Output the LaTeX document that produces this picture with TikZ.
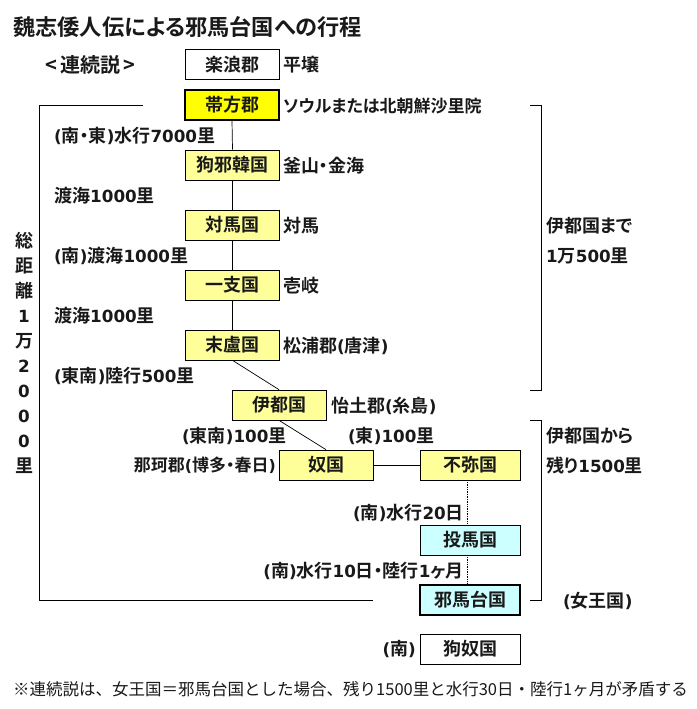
\documentclass[tikz,border=0pt]{standalone}
\usepackage{fontspec}
\setmainfont[BoldFont={Noto Sans CJK JP Bold},RawFeature={+palt}]{Noto Sans CJK JP}
\newfontfamily\regfont{Noto Sans CJK JP}
\newfontfamily\widefont[Scale=0.93]{DejaVu Sans Bold}
\newcommand{\dg}[1]{{\widefont #1}}
\begin{document}
\begin{tikzpicture}[x=1pt,y=-1pt,
  box/.style={draw=black,line width=0.7pt,minimum width=94pt,minimum height=30pt,inner sep=0pt,font=\fontsize{18}{18}\bfseries\selectfont,text=black!90},
  wide/.style={box,minimum width=100pt},
  plain/.style={fill=white},
  yel/.style={fill=myyel},
  cyan/.style={fill=mycyan},
  strong/.style={line width=1.7pt},
  lab/.style={anchor=west,inner sep=0pt,yshift=-1pt,font=\fontsize{18}{18}\bfseries\selectfont,text=black!90},
  labr/.style={lab,anchor=east},
  tight/.style={font=\fontsize{17}{17}\bfseries\selectfont},
  link/.style={draw=black,line width=0.7pt},
  dots/.style={draw=black,line width=0.7pt,densely dotted}]
\definecolor{myyel}{RGB}{255,255,153}
\definecolor{mycyan}{RGB}{204,255,255}
\definecolor{mystrong}{RGB}{255,255,0}
\useasboundingbox (0,0) rectangle (696,709);
\fill[white] (0,0) rectangle (696,709);
\node[lab,font=\fontsize{22.2}{22}\bfseries\selectfont] (title) at (13,26) {魏志倭人伝による邪馬台国への行程};
\node[lab,font=\fontsize{20}{20}\bfseries\selectfont] (ren) at (45,64) {<\hspace{3pt}連続説\hspace{3pt}>};
% boxes
\node[box,plain] (raku) at (232.5,64.5) {楽浪郡};
\node[box,fill=mystrong,strong] (tai) at (232,105) {帯方郡};
\node[box,yel] (kuya) at (232.5,165) {狗邪韓国};
\node[box,yel] (tsu) at (232.5,225) {対馬国};
\node[box,yel] (iki) at (232.5,285) {一支国};
\node[box,yel] (mat) at (232.5,345) {末盧国};
\node[box,yel] (ito) at (279,405) {伊都国};
\node[box,yel] (na) at (326,465) {奴国};
\node[wide,yel] (fumi) at (470,465) {不弥国};
\node[wide,cyan] (toma) at (470,540) {投馬国};
\node[wide,cyan,strong] (yama) at (470,600) {邪馬台国};
\node[wide,plain] (kuna) at (470,649) {狗奴国};
% connectors
\draw[link] (tai.south) -- (kuya.north);
\draw[link] (kuya.south) -- (tsu.north);
\draw[link] (tsu.south) -- (iki.north);
\draw[link] (iki.south) -- (mat.north);
\draw[link] (mat.south) -- (ito.north);
\draw[link] (ito.south) -- (na.north);
\draw[link] (na.east) -- (fumi.west);
\draw[dots] ([xshift=-3pt]fumi.south) -- ([xshift=-3pt]toma.north);
\draw[dots] ([xshift=-3pt]toma.south) -- ([xshift=-3pt]yama.north);
% brackets
\coordinate (la) at (143,105);
\coordinate (lb) at (39,105);
\coordinate (lc) at (39,600);
\coordinate (ld) at (373,600);
\draw[link] (la) -- (lb) -- (lc) -- (ld);
\coordinate (ra) at (530,105);
\coordinate (rb) at (541,105);
\coordinate (rc) at (541,390);
\coordinate (rd) at (530,390);
\draw[link] (ra) -- (rb) -- (rc) -- (rd);
\coordinate (sa) at (530,420);
\coordinate (sb) at (541,420);
\coordinate (sc) at (541,600);
\coordinate (sd) at (530,600);
\draw[link] (sa) -- (sb) -- (sc) -- (sd);
% right-hand labels
\node[lab] (l1) at (283,64) {平壌};
\node[lab,tight] (l2) at (283,105) {ソウルまたは北朝鮮沙里院};
\node[lab] (l3) at (283,165) {釜山・金海};
\node[lab] (l4) at (283,225) {対馬};
\node[lab] (l5) at (283,285) {壱岐};
\node[lab] (l6) at (283,345) {松浦郡\dg{(}唐津\dg{)}};
\node[lab] (l7) at (331,405) {怡土郡\dg{(}糸島\dg{)}};
\node[labr,tight] (l8) at (276,464) {那珂郡\dg{(}博多・春日\dg{)}};
% route labels
\node[lab] (r1) at (54,135) {\dg{(}南・東\dg{)}水行\dg{7000}里};
\node[lab] (r2) at (54,195) {渡海\dg{1000}里};
\node[lab] (r3) at (54,255) {\dg{(}南\dg{)}渡海\dg{1000}里};
\node[lab] (r4) at (54,315) {渡海\dg{1000}里};
\node[lab] (r5) at (54,375) {\dg{(}東南\dg{)}陸行\dg{500}里};
\node[lab] (r6) at (182,435) {\dg{(}東南\dg{)}\dg{100}里};
\node[lab] (r7) at (348,435) {\dg{(}東\dg{)}\dg{100}里};
\node[labr] (r8) at (464,512) {\dg{(}南\dg{)}水行\dg{20}日};
\node[labr] (r9) at (464,570) {\dg{(}南\dg{)}水行\dg{10}日・陸行\dg{1}ヶ月};
\node[labr] (r10) at (416,648) {\dg{(}南\dg{)}};
\node[lab] (r11) at (563,600) {\dg{(}女王国\dg{)}};
% bracket labels
\node[lab] (b1) at (546,225) {伊都国まで};
\node[lab] (b2) at (546,255) {\dg{1}万\dg{500}里};
\node[lab] (b3) at (546,435) {伊都国から};
\node[lab] (b4) at (546,465) {残り\dg{1500}里};
% vertical total
\node[inner sep=0pt,align=center,anchor=north,font=\fontsize{18}{25}\bfseries\selectfont,text=black!90] (tot) at (24,232) {総\\距\\離\\\dg{1}\\万\\\dg{2}\\\dg{0}\\\dg{0}\\\dg{0}\\里};
% note
\node[lab,font=\fontsize{16.5}{16}\regfont\selectfont] (note) at (13,688) {※連続説は、女王国＝邪馬台国とした場合、残り1500里と水行30日・陸行1ヶ月が矛盾する};
\end{tikzpicture}
\end{document}
